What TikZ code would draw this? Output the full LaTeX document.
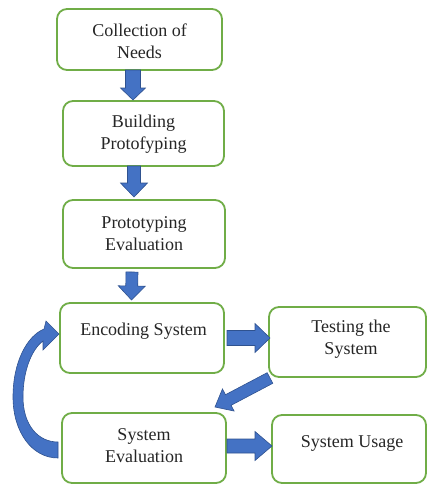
\documentclass[tikz,border=0pt]{standalone}
\usepackage{fontspec}
\setmainfont{Liberation Serif}
\usetikzlibrary{calc}
\definecolor{boxgreen}{HTML}{70AD47}
\definecolor{arrowblue}{HTML}{4472C4}
\definecolor{arrowedge}{HTML}{2F528F}
\definecolor{txt}{HTML}{262626}
\tikzset{
  box/.style={draw=boxgreen, line width=1.8pt, rounded corners=10pt, fill=white,
    outer sep=0pt, inner sep=0pt},
  lbl/.style={align=center, font=\fontsize{18}{22}\selectfont, text=txt, inner sep=0pt},
  blk/.style n args={3}{% shaft half width, head half width, head length
    fill=arrowblue, draw=arrowedge, line width=0.6pt, line join=miter,
    to path={
      let \p1=(\tikztostart), \p2=(\tikztotarget),
          \n1={atan2(\y2-\y1,\x2-\x1)}, \n2={veclen(\x2-\x1,\y2-\y1)}
      in ($(\p1)+({\n1+90}:#1)$)
      -- ($(\p1)+({\n1+0}:{\n2-#3})+({\n1+90}:#1)$)
      -- ($(\p1)+({\n1+0}:{\n2-#3})+({\n1+90}:#2)$)
      -- (\p2)
      -- ($(\p1)+({\n1+0}:{\n2-#3})+({\n1-90}:#2)$)
      -- ($(\p1)+({\n1+0}:{\n2-#3})+({\n1-90}:#1)$)
      -- ($(\p1)+({\n1-90}:#1)$) -- cycle
    }
  },
  curvearrow/.style={fill=arrowblue, draw=arrowedge, line width=0.6pt, line join=miter}
}
\begin{document}
\begin{tikzpicture}[x=1pt,y=-1pt]
\useasboundingbox (0,0) rectangle (427,485);

% boxes
\node[box, minimum width=165pt, minimum height=61pt] (b1) at (139.5,39.5) {};
\node[box, minimum width=161pt, minimum height=65pt] (b2) at (143.5,133.5) {};
\node[box, minimum width=162pt, minimum height=68pt] (b3) at (144,234) {};
\node[box, minimum width=164pt, minimum height=70pt] (b4) at (142,338) {};
\node[box, minimum width=157pt, minimum height=70pt] (b5) at (347.5,342) {};
\node[box, minimum width=164pt, minimum height=70pt] (b6) at (144,448) {};
\node[box, minimum width=154pt, minimum height=68pt] (b7) at (349,449) {};

% texts
\node[lbl] (t1) at (139.5,41) {Collection of\\Needs};
\node[lbl] (t2) at (143.5,134) {Building\\Protofyping};
\node[lbl] (t3) at (144,234) {Prototyping\\Evaluation};
\node[lbl] (t4) at (143.5,331) {Encoding System};
\node[lbl] (t5) at (351,339) {Testing the\\System};
\node[lbl] (t6) at (144,446) {System\\Evaluation};
\node[lbl] (t7) at (352,443) {System Usage};

% block arrows
\path[blk={7.5pt}{12.5pt}{12pt}] ([xshift=-6.5pt]b1.south) to ([xshift=-10.5pt,yshift=1pt]b2.north);
\path[blk={6.5pt}{13.5pt}{14pt}] ([xshift=-9.5pt]b2.south) to ([xshift=-10pt,yshift=3pt]b3.north);
\path[blk={6pt}{13.5pt}{14pt}] ([xshift=-12pt,yshift=-4pt]b3.south) to ([xshift=-10.5pt,yshift=3pt]b4.north);
\path[blk={7.5pt}{14.5pt}{15pt}] ([xshift=3pt]b4.east) to ([xshift=1pt]b5.west |- b4.east);
\path[blk={7pt}{14.5pt}{17pt}] ([xshift=1pt,yshift=2pt]b6.east) to ([yshift=3pt]b7.west);
\path[blk={6pt}{12.5pt}{15pt}] ([xshift=1pt,yshift=-1pt]b5.south west) to ([xshift=-11pt,yshift=6pt]b6.north east);

% curved feedback arrow from System Evaluation back to Encoding System
\path[curvearrow]
  (58,458) .. controls (32,458) and (13,432) .. (13,397)
  .. controls (13,362) and (27,336) .. (44,329)
  -- (46,321) -- (59,334) -- (43,350) -- (43,341)
  .. controls (31,350) and (23,372) .. (23,397)
  .. controls (23,425) and (38,442) .. (58,442) -- cycle;
\end{tikzpicture}
\end{document}
